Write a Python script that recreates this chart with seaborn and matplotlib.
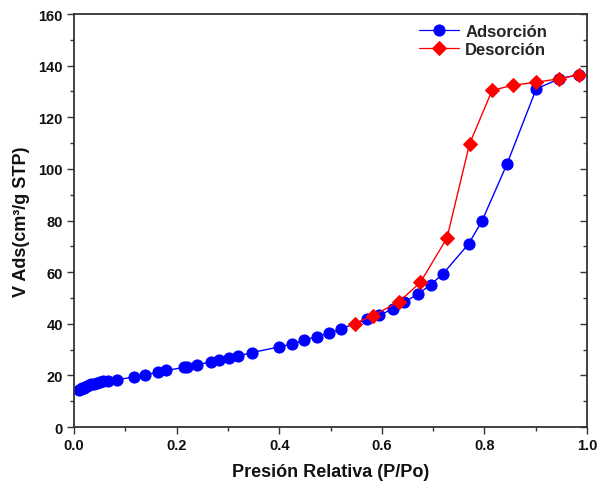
import numpy as np
import pandas as pd
import matplotlib
matplotlib.use("Agg")
import matplotlib.pyplot as plt
import seaborn as sns
from matplotlib.ticker import MultipleLocator, FormatStrFormatter

# Adsorption branch
p_ads = [0.010, 0.013, 0.016, 0.019, 0.022, 0.026, 0.030, 0.034, 0.039, 0.044,
         0.050, 0.057, 0.066, 0.084, 0.117, 0.139, 0.163, 0.180, 0.214, 0.220,
         0.240, 0.268, 0.283, 0.302, 0.320, 0.346, 0.399, 0.424, 0.448, 0.473,
         0.497, 0.521, 0.571, 0.595, 0.621, 0.644, 0.671, 0.695, 0.719, 0.769,
         0.795, 0.844, 0.901, 0.946, 0.984]
v_ads = [14.2, 14.6, 15.0, 15.3, 15.6, 15.9, 16.2, 16.5, 16.8, 17.1,
         17.4, 17.7, 18.0, 18.3, 19.4, 20.2, 21.2, 21.9, 23.1, 23.4,
         24.1, 25.3, 25.9, 26.7, 27.5, 28.8, 31.0, 32.1, 33.6, 35.0,
         36.4, 38.1, 41.7, 43.3, 45.7, 48.4, 51.6, 55.1, 59.3, 70.9,
         79.7, 101.9, 131.0, 134.9, 136.5]

# Desorption branch
p_des = [0.984, 0.946, 0.901, 0.855, 0.815, 0.771, 0.727, 0.675, 0.634, 0.583, 0.547]
v_des = [136.5, 134.9, 133.6, 132.4, 130.4, 109.7, 73.2, 56.0, 48.6, 43.2, 40.1]

ads = pd.DataFrame({"p": p_ads, "v": v_ads})
des = pd.DataFrame({"p": p_des, "v": v_des})

sns.set_theme(style="ticks")
plt.rcParams["font.family"] = ["Liberation Sans", "DejaVu Sans"]
plt.rcParams["font.weight"] = "bold"

fig = plt.figure(figsize=(6.08, 4.89), dpi=100)
ax = fig.add_axes([0.1217, 0.1247, 0.8438, 0.8446])

sns.lineplot(data=ads, x="p", y="v", sort=False, ax=ax, color="#0000ff",
             marker="o", markersize=8, markeredgecolor="#0000ff",
             linewidth=1.0, label="Adsorción")
sns.lineplot(data=des, x="p", y="v", sort=False, ax=ax, color="#ff0000",
             marker="D", markersize=7, markeredgecolor="#ff0000",
             linewidth=1.0, label="Desorción")

ax.set_xlim(0, 1.0)
ax.set_ylim(0, 160)
ax.xaxis.set_major_locator(MultipleLocator(0.2))
ax.xaxis.set_minor_locator(MultipleLocator(0.1))
ax.yaxis.set_major_locator(MultipleLocator(20))
ax.yaxis.set_minor_locator(MultipleLocator(10))
ax.xaxis.set_major_formatter(FormatStrFormatter("%.1f"))

for s in ax.spines.values():
    s.set_visible(True)
    s.set_color("#333333")
    s.set_linewidth(1.3)

ax.tick_params(axis="both", which="major", direction="out", length=5, width=1.0,
               color="#333333", labelsize=10.5, pad=3, labelcolor="#111111")
ax.tick_params(axis="both", which="minor", direction="out", length=3, width=1.0,
               color="#333333")

# inward ticks along the right spine
axr = ax.twinx()
axr.set_ylim(ax.get_ylim())
axr.yaxis.set_major_locator(MultipleLocator(20))
axr.yaxis.set_minor_locator(MultipleLocator(10))
axr.tick_params(axis="y", which="major", direction="in", length=5, width=1.0,
                color="#333333", labelright=False)
axr.tick_params(axis="y", which="minor", direction="in", length=3, width=1.0,
                color="#333333")
for s in axr.spines.values():
    s.set_visible(False)

for lbl in ax.get_xticklabels() + ax.get_yticklabels():
    lbl.set_fontweight("bold")

ax.set_xlabel("Presión Relativa (P/Po)", fontsize=13, fontweight="bold", labelpad=8,
              color="#111111")
ax.set_ylabel("V Ads(cm³/g STP)", fontsize=13, fontweight="bold", labelpad=6,
              color="#111111")

leg = ax.legend(loc="upper right", bbox_to_anchor=(0.945, 1.005), frameon=False,
                fontsize=12, handlelength=2.4, handletextpad=0.4,
                labelspacing=0.2, borderaxespad=0.3)
for txt in leg.get_texts():
    txt.set_fontweight("bold")
for line in leg.get_lines():
    line.set_linewidth(0.9)

fig.savefig("out.png", dpi=100)
